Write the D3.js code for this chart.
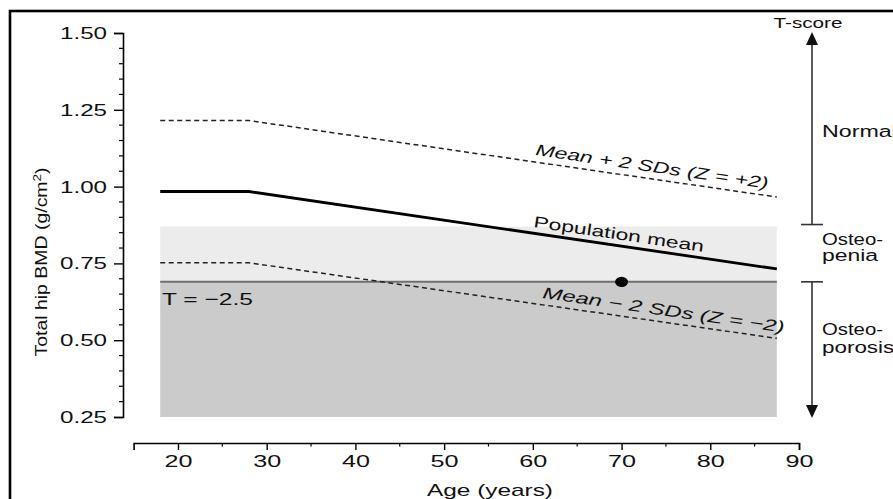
<!DOCTYPE html>
<html><head><meta charset="utf-8">
<script src="https://cdn.jsdelivr.net/npm/d3@7"></script>
<style>
html,body{margin:0;padding:0;background:#fff;}
svg{display:block;}
text{font-family:"Liberation Sans",Arial,Helvetica,sans-serif;fill:#111;}
</style></head>
<body>
<svg id="c" width="893" height="499"></svg>
<script>
// ---- data ----
const ages = [18, 28, 87.5];
const meanBMD = [0.984, 0.984, 0.732];
const plus2SD = [1.215, 1.215, 0.966];
const minus2SD = [0.752, 0.752, 0.506];
const shadeAges = [18, 87.5];
const osteopeniaTop = 0.87;
const osteoporosisTop = 0.69;
const patientAge = [70];
const patientBMD = [0.69];
const xTicks = [20, 30, 40, 50, 60, 70, 80, 90];
const xMinor = [25, 35, 45, 55, 65, 75, 85];
const yTicks = [0.25, 0.50, 0.75, 1.00, 1.25, 1.50];
const yMinor = d3.range(0.30, 1.50, 0.05).filter(v => Math.abs((v * 4) - Math.round(v * 4)) > 0.01);

const svg = d3.select("#c");
const x = d3.scaleLinear().domain([15, 90]).range([133.6, 799]);
const y = d3.scaleLinear().domain([0.25, 1.5]).range([417, 33]);

// frame
svg.append("rect").attr("x", 10).attr("y", 11).attr("width", 900).attr("height", 510)
  .attr("fill", "none").attr("stroke", "#000").attr("stroke-width", 2.6);

// shaded zones
svg.append("rect").attr("x", x(shadeAges[0])).attr("width", x(shadeAges[1]) - x(shadeAges[0]))
  .attr("y", y(osteopeniaTop)).attr("height", y(osteoporosisTop) - y(osteopeniaTop)).attr("fill", "#ececec");
svg.append("rect").attr("x", x(shadeAges[0])).attr("width", x(shadeAges[1]) - x(shadeAges[0]))
  .attr("y", y(osteoporosisTop)).attr("height", y(0.25) - y(osteoporosisTop)).attr("fill", "#cbcbcb");
// T = -2.5 line
svg.append("line").attr("x1", x(shadeAges[0])).attr("x2", x(shadeAges[1]))
  .attr("y1", y(osteoporosisTop)).attr("y2", y(osteoporosisTop)).attr("stroke", "#6f6f6f").attr("stroke-width", 2);

// lines
const line = d3.line().x(d => x(d[0])).y(d => y(d[1]));
const pts = arr => ages.map((a, i) => [a, arr[i]]);
svg.append("path").attr("d", line(pts(plus2SD))).attr("fill", "none").attr("stroke", "#222")
  .attr("stroke-width", 1.5).attr("stroke-dasharray", "5,3.5");
svg.append("path").attr("d", line(pts(minus2SD))).attr("fill", "none").attr("stroke", "#222")
  .attr("stroke-width", 1.5).attr("stroke-dasharray", "5,3.5");
svg.append("path").attr("d", line(pts(meanBMD))).attr("fill", "none").attr("stroke", "#000")
  .attr("stroke-width", 2.8);

// patient dot
svg.selectAll(".pt").data(patientAge).enter().append("ellipse")
  .attr("cx", (d, i) => x(d)).attr("cy", (d, i) => y(patientBMD[i]))
  .attr("rx", 6.5).attr("ry", 5.2).attr("fill", "#000");

// axes
const yAxis = svg.append("g").attr("transform", `translate(${x(15) - 10.6},0)`)
  .call(d3.axisLeft(y).tickValues(yTicks).tickSize(9).tickFormat(d3.format(".2f")));
yAxis.select(".domain").attr("stroke-width", 1.6);
yAxis.selectAll(".tick line").attr("stroke-width", 1.4);
yAxis.selectAll(".tick text").attr("font-size", 17).attr("x", -16)
  .attr("font-family", '"Liberation Sans",Arial,sans-serif').attr("fill", "#111")
  .attr("textLength", 47).attr("lengthAdjust", "spacingAndGlyphs");
yAxis.selectAll(".minor").data(yMinor).enter().append("line").attr("class", "minor")
  .attr("x1", 0).attr("x2", -4).attr("y1", d => y(d)).attr("y2", d => y(d))
  .attr("stroke", "#000").attr("stroke-width", 1.2);

const xAxis = svg.append("g").attr("transform", `translate(0,443)`)
  .call(d3.axisBottom(x).tickValues(xTicks).tickSize(7).tickSizeOuter(7));
xAxis.select(".domain").attr("stroke-width", 1.6);
xAxis.selectAll(".tick line").attr("stroke-width", 1.4);
xAxis.selectAll(".tick text").attr("font-size", 17).attr("y", 12)
  .attr("font-family", '"Liberation Sans",Arial,sans-serif').attr("fill", "#111")
  .attr("textLength", 28).attr("lengthAdjust", "spacingAndGlyphs");
xAxis.selectAll(".minor").data(xMinor).enter().append("line").attr("class", "minor")
  .attr("x1", d => x(d)).attr("x2", d => x(d)).attr("y1", 0).attr("y2", 3.5)
  .attr("stroke", "#000").attr("stroke-width", 1.2);

// text helper
function label(t, px, py, opts) {
  const o = Object.assign({size: 16, anchor: "start", rot: 0, italic: false, len: null, sx: 1.4}, opts || {});
  const el = svg.append("text").attr("font-size", o.size).attr("text-anchor", o.anchor)
    .attr("font-style", o.italic ? "italic" : "normal")
    .attr("transform", `translate(${px},${py}) rotate(${o.rot})`).text(t);
  const len = o.len != null ? o.len : el.node().getComputedTextLength() * o.sx;
  el.attr("textLength", len).attr("lengthAdjust", "spacingAndGlyphs");
  return el;
}
const ang = arr => Math.atan2(y(arr[2]) - y(arr[1]), x(ages[2]) - x(ages[1])) * 180 / Math.PI;

label("Mean + 2 SDs (Z = +2)", 535, 155, {italic: true, len: 235, rot: ang(plus2SD)});
label("Population mean", 533, 227, {len: 172, rot: ang(meanBMD)});
label("Mean \u2212 2 SDs (Z = \u22122)", 542, 298, {italic: true, len: 244, rot: ang(minus2SD)});
label("T = \u22122.5", 162, 305, {size: 17, len: 91});

// axis titles
label("Age (years)", 490, 496, {size: 17, anchor: "middle", len: 126});
svg.append("text").attr("font-size", 16).attr("text-anchor", "middle")
  .attr("transform", "translate(47,262) rotate(-90)")
  .attr("textLength", 189).attr("lengthAdjust", "spacingAndGlyphs")
  .call(t => { t.append("tspan").text("Total hip BMD (g/cm");
               t.append("tspan").attr("font-size", 11).attr("dy", -6).text("2");
               t.append("tspan").attr("dy", 6).text(")"); });

// T-score arrows
const ax = 812;
const g = svg.append("g").attr("stroke", "#333").attr("stroke-width", 1.6);
g.append("line").attr("x1", ax).attr("x2", ax).attr("y1", y(osteopeniaTop) - 2).attr("y2", y(1.5) + 10);
g.append("line").attr("x1", ax - 11).attr("x2", ax + 11).attr("y1", y(osteopeniaTop) - 2).attr("y2", y(osteopeniaTop) - 2);
g.append("line").attr("x1", ax).attr("x2", ax).attr("y1", y(osteoporosisTop)).attr("y2", y(0.25) - 10);
g.append("line").attr("x1", ax - 11).attr("x2", ax + 11).attr("y1", y(osteoporosisTop)).attr("y2", y(osteoporosisTop));
svg.append("path").attr("d", `M${ax},${y(1.5) - 1} L${ax - 6},${y(1.5) + 12} L${ax + 6},${y(1.5) + 12} Z`).attr("fill", "#111");
svg.append("path").attr("d", `M${ax},${y(0.25) + 1} L${ax - 6},${y(0.25) - 12} L${ax + 6},${y(0.25) - 12} Z`).attr("fill", "#111");

label("T-score", 808, 28, {size: 15, anchor: "middle", len: 69});
label("Normal", 822, 137, {size: 16, sx: 1.45});
label("Osteo-", 822, 245, {size: 16, len: 61});
label("penia", 822, 261, {size: 16, len: 56});
label("Osteo-", 822, 335, {size: 16, len: 61});
label("porosis", 822, 353, {size: 16, sx: 1.4});
</script>
</body></html>
